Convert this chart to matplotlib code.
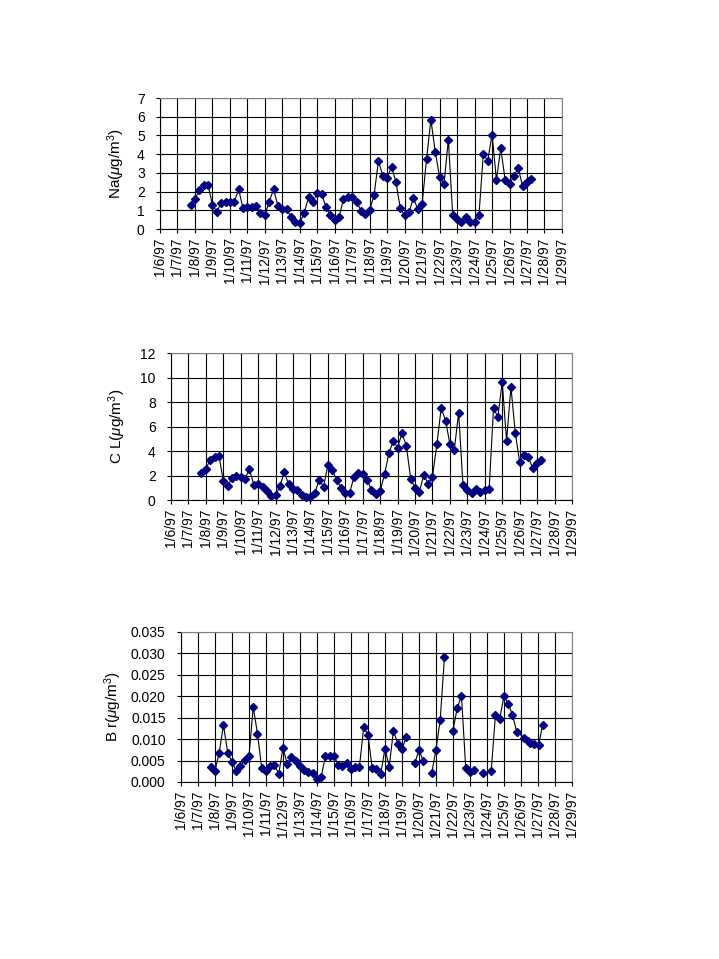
import matplotlib
matplotlib.use('Agg')
import matplotlib.pyplot as plt
import numpy as np

plt.rcParams['font.family'] = ['Liberation Sans', 'DejaVu Sans']
plt.rcParams['mathtext.fontset'] = 'custom'
plt.rcParams['mathtext.rm'] = 'Liberation Sans'
plt.rcParams['mathtext.it'] = 'Liberation Sans:italic'

# x axis: day of January 1997
days = [6, 7, 8, 9, 10, 11, 12, 13, 14, 15, 16, 17, 18, 19, 20, 21, 22, 23, 24, 25, 26, 27, 28, 29]
day_labels = ['1/6/97', '1/7/97', '1/8/97', '1/9/97', '1/10/97', '1/11/97', '1/12/97', '1/13/97',
              '1/14/97', '1/15/97', '1/16/97', '1/17/97', '1/18/97', '1/19/97', '1/20/97', '1/21/97',
              '1/22/97', '1/23/97', '1/24/97', '1/25/97', '1/26/97', '1/27/97', '1/28/97', '1/29/97']

# sample times (6 hourly) shared by all three species
t_common = [7.75, 8.0, 8.25, 8.5, 8.75, 9.0, 9.25, 9.5, 9.75, 10.0, 10.25, 10.5, 10.75, 11.0, 11.25,
            11.5, 11.75, 12.0, 12.25, 12.5, 12.75, 13.0, 13.25, 13.5, 13.75, 14.0, 14.25, 14.5, 14.75,
            15.0, 15.25, 15.5, 15.75, 16.0, 16.25, 16.5, 16.75, 17.0, 17.25, 17.5, 17.75, 18.0, 18.25,
            18.5, 18.75, 19.0, 19.25, 19.5, 19.75, 20.0, 20.25, 20.5, 20.75, 21.0, 21.25, 21.5, 21.75,
            22.0, 22.25, 22.5, 22.75, 23.0, 23.25, 23.5, 23.75, 24.0, 24.25, 24.5, 24.75, 25.0, 25.25,
            25.5, 25.75]

na = [1.30, 1.59, 2.09, 2.36, 2.36, 1.29, 0.93, 1.41, 1.46, 1.46,
      1.46, 2.12, 1.10, 1.16, 1.16, 1.23, 0.84, 0.73, 1.46, 2.12,
      1.23, 1.09, 1.05, 0.63, 0.38, 0.34, 0.84, 1.70, 1.46, 1.91,
      1.88, 1.16, 0.73, 0.48, 0.66, 1.59, 1.73, 1.72, 1.46, 0.98,
      0.80, 1.02, 1.82, 3.63, 2.84, 2.73, 3.34, 2.50, 1.10, 0.73,
      0.91, 1.64, 1.07, 1.34, 3.73, 5.84, 4.13, 2.77, 2.41, 4.77,
      0.73, 0.52, 0.38, 0.63, 0.38, 0.38, 0.73, 4.02, 3.64, 5.05,
      2.63, 4.32, 2.60]
na_tail_t = [26.0, 26.25, 26.5, 26.75, 26.9, 27.03, 27.22]
na_tail = [2.39, 2.83, 3.25, 2.28, 2.42, 2.55, 2.66]

cl = [2.18, 2.54, 3.27, 3.49, 3.63, 1.55, 1.15, 1.80, 1.94, 1.85,
      1.75, 2.51, 1.25, 1.31, 1.09, 0.71, 0.33, 0.38, 1.15, 2.26,
      1.28, 0.90, 0.82, 0.41, 0.22, 0.22, 0.60, 1.64, 1.09, 2.84,
      2.45, 1.64, 0.98, 0.60, 0.60, 1.91, 2.18, 2.10, 1.64, 0.82,
      0.49, 0.74, 2.10, 3.82, 4.83, 4.28, 5.45, 4.42, 1.72, 1.01,
      0.68, 2.05, 1.31, 1.91, 4.55, 7.50, 6.49, 4.55, 4.09, 7.14,
      1.20, 0.82, 0.55, 0.90, 0.63, 0.82, 0.90, 7.50, 6.79, 9.63,
      4.83, 9.24, 5.45]
cl_tail_t = [26.0, 26.25, 26.5, 26.75, 27.0, 27.25]
cl_tail = [3.11, 3.68, 3.49, 2.59, 3.00, 3.27]

nan = float('nan')  # missing samples -> gap in the line
br = [0.0036, 0.0026, 0.0068, 0.0133, 0.0068, 0.0047, 0.0026, 0.0037, 0.0052, 0.0060,
      0.0175, 0.0113, 0.0032, 0.0026, 0.0038, 0.0040, 0.0019, 0.0079, 0.0043, 0.0058,
      0.0049, 0.0038, 0.0028, 0.0023, 0.0022, 0.0007, 0.0012, 0.0061, 0.0061, 0.0061,
      0.0040, 0.0038, 0.0044, 0.0031, 0.0035, 0.0036, 0.0128, 0.0110, 0.0032, 0.0031,
      0.0019, 0.0077, 0.0036, 0.0120, 0.0089, 0.0077, 0.0105, nan, 0.0044, 0.0074,
      0.0050, nan, 0.0021, 0.0075, 0.0145, 0.0292, nan, 0.0120, 0.0173, 0.0201,
      0.0033, 0.0023, 0.0029, nan, 0.0021, nan, 0.0026, 0.0157, 0.0148, 0.0200,
      0.0183, 0.0157, 0.0117]
br_tail_t = [26.2, 26.43, 26.55, 26.78, 27.04, 27.27]
br_tail = [0.0103, 0.0095, 0.0091, 0.0089, 0.0086, 0.0133]


def draw(ax, t, y, ymax, ystep, label, fmt, labx):
    ax.plot(t, y, color='black', lw=0.8, marker='D', ms=3.6,
            mfc='#000080', mec='#000080', zorder=3, clip_on=False)
    ax.set_xlim(6, 29)
    ax.set_ylim(0, ymax)
    ax.set_xticks(days)
    ax.set_xticklabels(day_labels, rotation=90, fontsize=10)
    yt = np.arange(0, ymax + ystep / 2, ystep)
    ax.set_yticks(yt)
    ax.set_yticklabels([fmt % v for v in yt], fontsize=10)
    ax.grid(True, color='black', lw=0.8)
    ax.set_axisbelow(True)
    for s in ['top', 'right']:
        ax.spines[s].set_color('#808080')
    for s in ['left', 'bottom']:
        ax.spines[s].set_color('black')
    ax.tick_params(axis='y', length=3, pad=8, width=0.8)
    ax.tick_params(axis='x', length=3, pad=3, width=0.8)
    ax.set_ylabel(label, fontsize=11)
    ax.yaxis.set_label_coords(labx, 0.5)


fig = plt.figure(figsize=(7.19, 9.59), dpi=100)

ax1 = fig.add_axes([0.2225, 0.7612, 0.5591, 0.1366])
draw(ax1, t_common + na_tail_t, na + na_tail, 7, 1, r'Na($\mu$g/m$^3$)', '%d', -0.082)

ax2 = fig.add_axes([0.2378, 0.4786, 0.5577, 0.1533])
draw(ax2, t_common + cl_tail_t, cl + cl_tail, 12, 2, r'C L($\mu$g/m$^3$)', '%d', -0.107)

ax3 = fig.add_axes([0.2517, 0.1846, 0.5438, 0.1564])
draw(ax3, t_common + br_tail_t, br + br_tail, 0.035, 0.005, r'B r($\mu$g/m$^3$)', '%.3f', -0.146)

fig.savefig('out.png', dpi=100)
